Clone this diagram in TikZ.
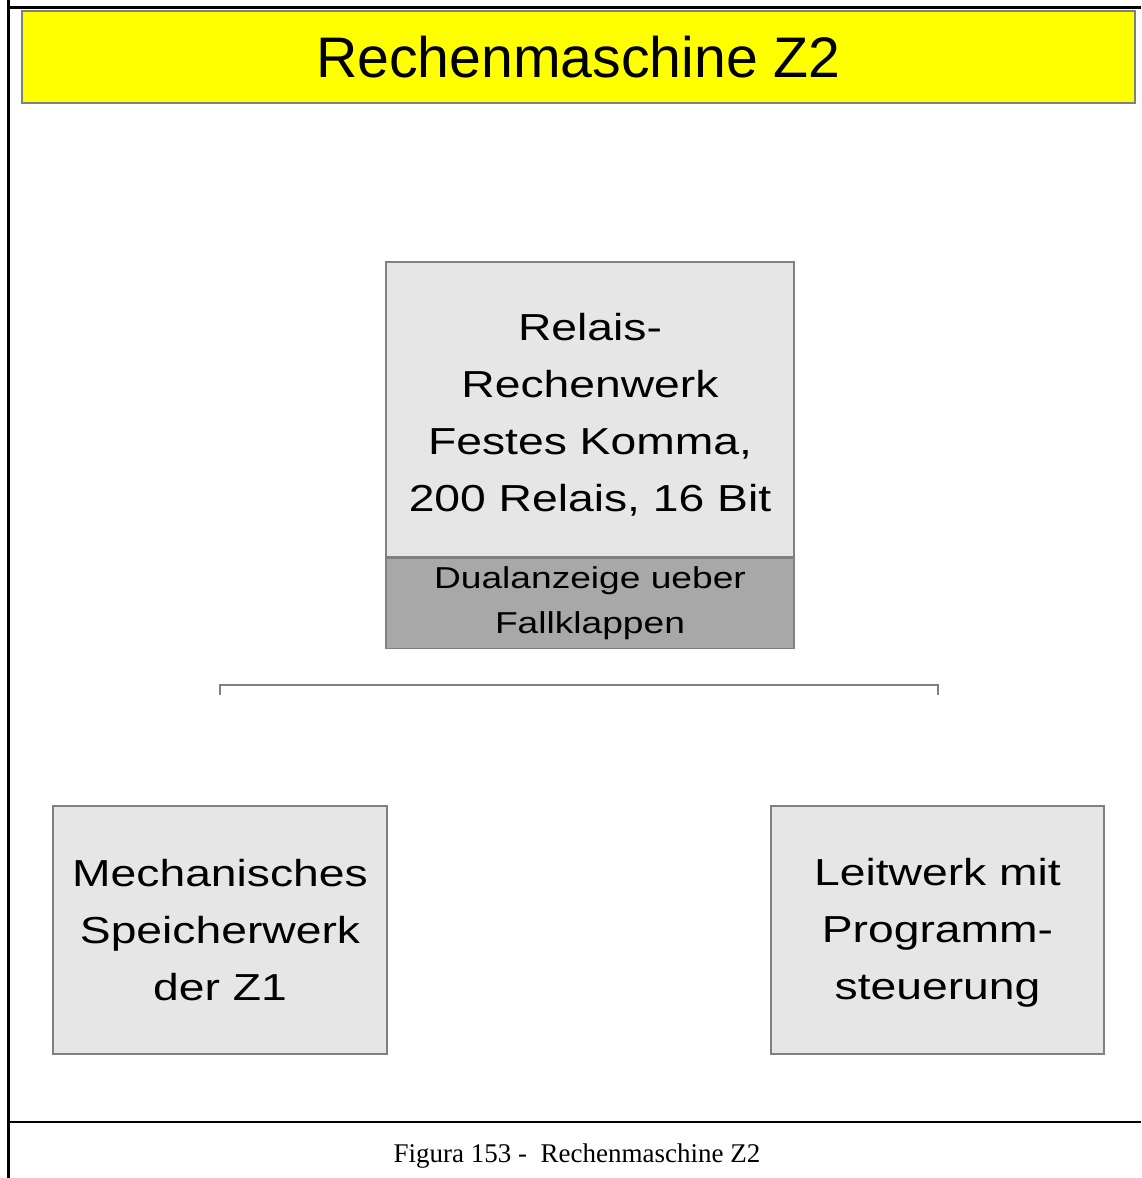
\documentclass[tikz,border=0pt]{standalone}
\usepackage{fontspec}
\setmainfont{Liberation Serif}
\newfontfamily\boxfont[FakeStretch=1.23]{Liberation Sans}
\newfontfamily\titlefont{Liberation Sans}
\usetikzlibrary{positioning}
\definecolor{bannerfill}{RGB}{255,255,0}
\definecolor{unitgray}{RGB}{230,230,230}
\definecolor{displaygray}{RGB}{168,168,168}
\definecolor{edgegray}{RGB}{128,128,128}
\tikzset{
  unitbox/.style={
    draw=edgegray,fill=unitgray,line width=0.8pt,align=center,inner sep=0pt,
    font=\boxfont\fontsize{18.8pt}{28.5pt}\selectfont
  },
  displaybox/.style={unitbox,fill=displaygray,font=\boxfont\fontsize{15.1pt}{22.5pt}\selectfont},
  titlebar/.style={
    draw=edgegray,fill=bannerfill,line width=0.8pt,inner sep=0pt,
    font=\titlefont\fontsize{28.6pt}{34pt}\selectfont
  },
  bracketline/.style={draw=edgegray,line width=1pt},
  frameline/.style={draw=black,line width=1.35pt}
}
\begin{document}
\begin{tikzpicture}[x=0.5pt,y=-0.5pt]
  \useasboundingbox (0,0) rectangle (1141,1178);
  \draw[frameline] (8.7,0) -- (8.7,1178);
  \draw[frameline] (8.7,7.3) -- (1141,7.3);
  \draw[frameline] (8.7,1122) -- (1141,1122);
  \node[titlebar,minimum width=556.5pt,minimum height=46pt] (title) at (578.5,57) {Rechenmaschine Z2};
  \node[unitbox,minimum width=204pt,minimum height=147.5pt] (relais) at (590,409.5)
    {\rule{0pt}{18.7pt}Relais-\\Rechenwerk\\Festes Komma,\\200 Relais, 16 Bit};
  \node[displaybox,minimum width=204pt,minimum height=45pt,below=0pt of relais] (anzeige)
    {Dualanzeige ueber\\Fallklappen};
  \node[unitbox,minimum width=167pt,minimum height=124pt] (speicher) at (220,930)
    {Mechanisches\\Speicherwerk\\der Z1};
  \node[unitbox,minimum width=166.5pt,minimum height=124pt] (leitwerk) at (937.5,930)
    {\rule{0pt}{16.7pt}Leitwerk mit\\Programm-\\steuerung};
  \draw[bracketline] ([yshift=55pt]speicher.north) -- ++(0,-10) -| ([yshift=55pt]leitwerk.north);
  \node[font=\fontsize{13.5pt}{16pt}\selectfont,anchor=base] (caption) at (577,1162)
    {Figura 153 -\ \ Rechenmaschine Z2};
\end{tikzpicture}
\end{document}
